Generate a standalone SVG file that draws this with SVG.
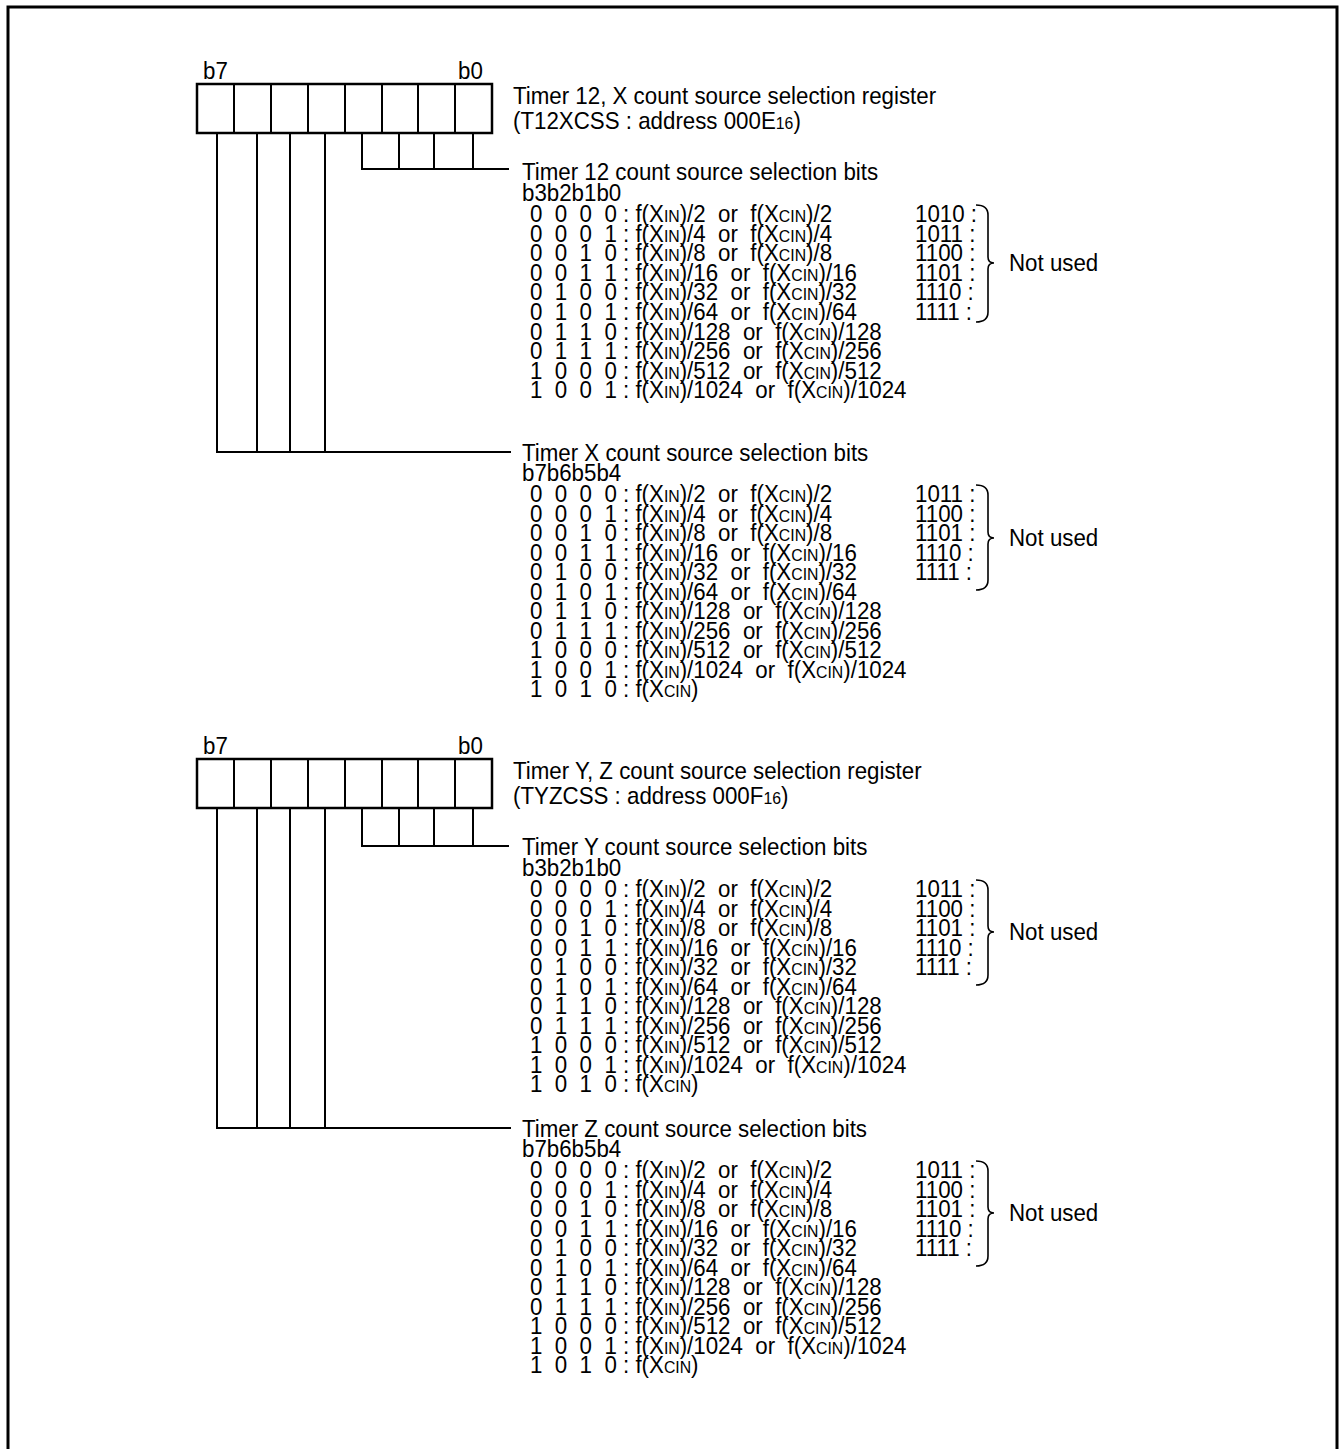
<svg xmlns="http://www.w3.org/2000/svg" width="1339" height="1449" viewBox="0 0 1339 1449">
<style>
.t{font-family:"Liberation Sans",Arial,sans-serif;font-size:24px;fill:#000}
.s{font-size:17px}
.ln{stroke:#000;stroke-width:2;fill:none}
.bx{stroke:#000;stroke-width:2.5;fill:#fff}
.br{stroke:#000;stroke-width:1.6;fill:none}
</style>
<rect width="1339" height="1449" fill="#fff"/>
<path d="M8,1449 V7 H1337 V1449" fill="none" stroke="#000" stroke-width="3"/>

<g id="register1">
<rect class="bx" x="197" y="84" width="295" height="49"/>
<path class="ln" d="M234,84V133M271,84V133M308,84V133M345,84V133M382,84V133M418,84V133M455,84V133"/>
<text class="t" transform="translate(203,79) scale(0.93,1)">b7</text>
<text class="t" transform="translate(458,79) scale(0.93,1)">b0</text>
<text class="t" transform="translate(513,104) scale(0.93,1)">Timer 12, X count source selection register</text>
<text class="t" transform="translate(513,129) scale(0.93,1)">(T12XCSS : address 000E<tspan class="s">16</tspan>)</text>
</g>

<g id="register2">
<rect class="bx" x="197" y="759" width="295" height="49"/>
<path class="ln" d="M234,759V808M271,759V808M308,759V808M345,759V808M382,759V808M418,759V808M455,759V808"/>
<text class="t" transform="translate(203,754) scale(0.93,1)">b7</text>
<text class="t" transform="translate(458,754) scale(0.93,1)">b0</text>
<text class="t" transform="translate(513,779) scale(0.93,1)">Timer Y, Z count source selection register</text>
<text class="t" transform="translate(513,804) scale(0.93,1)">(TYZCSS : address 000F<tspan class="s">16</tspan>)</text>
</g>

<g id="connectors">
<path class="ln" d="M362,133V169M399,133V169M434,133V169M473,133V169M361,169H509"/>
<path class="ln" d="M217,133V452M257,133V452M290,133V452M325,133V452M216,452H511"/>
<path class="ln" d="M362,808V846M399,808V846M434,808V846M473,808V846M361,846H509"/>
<path class="ln" d="M217,808V1128M257,808V1128M290,808V1128M325,808V1128M216,1128H511"/>
</g>

<g id="timer12-bits">
<text class="t" transform="translate(522,180) scale(0.93,1)">Timer 12 count source selection bits</text>
<text class="t" transform="translate(522,201) scale(0.93,1)">b3b2b1b0</text>
<text class="t" xml:space="preserve" transform="translate(530,222) scale(0.93,1)">0  0  0  0 : f(X<tspan class="s">IN</tspan>)/2  or  f(X<tspan class="s">CIN</tspan>)/2</text>
<text class="t" xml:space="preserve" transform="translate(530,241.6) scale(0.93,1)">0  0  0  1 : f(X<tspan class="s">IN</tspan>)/4  or  f(X<tspan class="s">CIN</tspan>)/4</text>
<text class="t" xml:space="preserve" transform="translate(530,261.2) scale(0.93,1)">0  0  1  0 : f(X<tspan class="s">IN</tspan>)/8  or  f(X<tspan class="s">CIN</tspan>)/8</text>
<text class="t" xml:space="preserve" transform="translate(530,280.8) scale(0.93,1)">0  0  1  1 : f(X<tspan class="s">IN</tspan>)/16  or  f(X<tspan class="s">CIN</tspan>)/16</text>
<text class="t" xml:space="preserve" transform="translate(530,300.4) scale(0.93,1)">0  1  0  0 : f(X<tspan class="s">IN</tspan>)/32  or  f(X<tspan class="s">CIN</tspan>)/32</text>
<text class="t" xml:space="preserve" transform="translate(530,320) scale(0.93,1)">0  1  0  1 : f(X<tspan class="s">IN</tspan>)/64  or  f(X<tspan class="s">CIN</tspan>)/64</text>
<text class="t" xml:space="preserve" transform="translate(530,339.6) scale(0.93,1)">0  1  1  0 : f(X<tspan class="s">IN</tspan>)/128  or  f(X<tspan class="s">CIN</tspan>)/128</text>
<text class="t" xml:space="preserve" transform="translate(530,359.2) scale(0.93,1)">0  1  1  1 : f(X<tspan class="s">IN</tspan>)/256  or  f(X<tspan class="s">CIN</tspan>)/256</text>
<text class="t" xml:space="preserve" transform="translate(530,378.8) scale(0.93,1)">1  0  0  0 : f(X<tspan class="s">IN</tspan>)/512  or  f(X<tspan class="s">CIN</tspan>)/512</text>
<text class="t" xml:space="preserve" transform="translate(530,398.4) scale(0.93,1)">1  0  0  1 : f(X<tspan class="s">IN</tspan>)/1024  or  f(X<tspan class="s">CIN</tspan>)/1024</text>
<text class="t" xml:space="preserve" transform="translate(915,222) scale(0.93,1)">1010 :</text>
<text class="t" xml:space="preserve" transform="translate(915,241.6) scale(0.93,1)">1011 :</text>
<text class="t" xml:space="preserve" transform="translate(915,261.2) scale(0.93,1)">1100 :</text>
<text class="t" xml:space="preserve" transform="translate(915,280.8) scale(0.93,1)">1101 :</text>
<text class="t" xml:space="preserve" transform="translate(915,300.4) scale(0.93,1)">1110 :</text>
<text class="t" xml:space="preserve" transform="translate(915,320) scale(0.93,1)">1111 :</text>
<path class="br" d="M976,205 C984,205 988,208 988,215 L988,257 C988,261 990,263 994,263 C990,263 988,265 988,269 L988,312 C988,319 984,322 976,322"/>
<text class="t" transform="translate(1009,271) scale(0.93,1)">Not used</text>
</g>

<g id="timerX-bits">
<text class="t" transform="translate(522,461) scale(0.93,1)">Timer X count source selection bits</text>
<text class="t" transform="translate(522,481) scale(0.93,1)">b7b6b5b4</text>
<text class="t" xml:space="preserve" transform="translate(530,502) scale(0.93,1)">0  0  0  0 : f(X<tspan class="s">IN</tspan>)/2  or  f(X<tspan class="s">CIN</tspan>)/2</text>
<text class="t" xml:space="preserve" transform="translate(530,521.5) scale(0.93,1)">0  0  0  1 : f(X<tspan class="s">IN</tspan>)/4  or  f(X<tspan class="s">CIN</tspan>)/4</text>
<text class="t" xml:space="preserve" transform="translate(530,541) scale(0.93,1)">0  0  1  0 : f(X<tspan class="s">IN</tspan>)/8  or  f(X<tspan class="s">CIN</tspan>)/8</text>
<text class="t" xml:space="preserve" transform="translate(530,560.5) scale(0.93,1)">0  0  1  1 : f(X<tspan class="s">IN</tspan>)/16  or  f(X<tspan class="s">CIN</tspan>)/16</text>
<text class="t" xml:space="preserve" transform="translate(530,580) scale(0.93,1)">0  1  0  0 : f(X<tspan class="s">IN</tspan>)/32  or  f(X<tspan class="s">CIN</tspan>)/32</text>
<text class="t" xml:space="preserve" transform="translate(530,599.5) scale(0.93,1)">0  1  0  1 : f(X<tspan class="s">IN</tspan>)/64  or  f(X<tspan class="s">CIN</tspan>)/64</text>
<text class="t" xml:space="preserve" transform="translate(530,619) scale(0.93,1)">0  1  1  0 : f(X<tspan class="s">IN</tspan>)/128  or  f(X<tspan class="s">CIN</tspan>)/128</text>
<text class="t" xml:space="preserve" transform="translate(530,638.5) scale(0.93,1)">0  1  1  1 : f(X<tspan class="s">IN</tspan>)/256  or  f(X<tspan class="s">CIN</tspan>)/256</text>
<text class="t" xml:space="preserve" transform="translate(530,658) scale(0.93,1)">1  0  0  0 : f(X<tspan class="s">IN</tspan>)/512  or  f(X<tspan class="s">CIN</tspan>)/512</text>
<text class="t" xml:space="preserve" transform="translate(530,677.5) scale(0.93,1)">1  0  0  1 : f(X<tspan class="s">IN</tspan>)/1024  or  f(X<tspan class="s">CIN</tspan>)/1024</text>
<text class="t" xml:space="preserve" transform="translate(530,697) scale(0.93,1)">1  0  1  0 : f(X<tspan class="s">CIN</tspan>)</text>
<text class="t" xml:space="preserve" transform="translate(915,502) scale(0.93,1)">1011 :</text>
<text class="t" xml:space="preserve" transform="translate(915,521.5) scale(0.93,1)">1100 :</text>
<text class="t" xml:space="preserve" transform="translate(915,541) scale(0.93,1)">1101 :</text>
<text class="t" xml:space="preserve" transform="translate(915,560.5) scale(0.93,1)">1110 :</text>
<text class="t" xml:space="preserve" transform="translate(915,580) scale(0.93,1)">1111 :</text>
<path class="br" d="M976,485 C984,485 988,488 988,495 L988,532 C988,536 990,538 994,538 C990,538 988,540 988,544 L988,580 C988,587 984,590 976,590"/>
<text class="t" transform="translate(1009,546) scale(0.93,1)">Not used</text>
</g>

<g id="timerY-bits">
<text class="t" transform="translate(522,855) scale(0.93,1)">Timer Y count source selection bits</text>
<text class="t" transform="translate(522,876) scale(0.93,1)">b3b2b1b0</text>
<text class="t" xml:space="preserve" transform="translate(530,897) scale(0.93,1)">0  0  0  0 : f(X<tspan class="s">IN</tspan>)/2  or  f(X<tspan class="s">CIN</tspan>)/2</text>
<text class="t" xml:space="preserve" transform="translate(530,916.5) scale(0.93,1)">0  0  0  1 : f(X<tspan class="s">IN</tspan>)/4  or  f(X<tspan class="s">CIN</tspan>)/4</text>
<text class="t" xml:space="preserve" transform="translate(530,936) scale(0.93,1)">0  0  1  0 : f(X<tspan class="s">IN</tspan>)/8  or  f(X<tspan class="s">CIN</tspan>)/8</text>
<text class="t" xml:space="preserve" transform="translate(530,955.5) scale(0.93,1)">0  0  1  1 : f(X<tspan class="s">IN</tspan>)/16  or  f(X<tspan class="s">CIN</tspan>)/16</text>
<text class="t" xml:space="preserve" transform="translate(530,975) scale(0.93,1)">0  1  0  0 : f(X<tspan class="s">IN</tspan>)/32  or  f(X<tspan class="s">CIN</tspan>)/32</text>
<text class="t" xml:space="preserve" transform="translate(530,994.5) scale(0.93,1)">0  1  0  1 : f(X<tspan class="s">IN</tspan>)/64  or  f(X<tspan class="s">CIN</tspan>)/64</text>
<text class="t" xml:space="preserve" transform="translate(530,1014) scale(0.93,1)">0  1  1  0 : f(X<tspan class="s">IN</tspan>)/128  or  f(X<tspan class="s">CIN</tspan>)/128</text>
<text class="t" xml:space="preserve" transform="translate(530,1033.5) scale(0.93,1)">0  1  1  1 : f(X<tspan class="s">IN</tspan>)/256  or  f(X<tspan class="s">CIN</tspan>)/256</text>
<text class="t" xml:space="preserve" transform="translate(530,1053) scale(0.93,1)">1  0  0  0 : f(X<tspan class="s">IN</tspan>)/512  or  f(X<tspan class="s">CIN</tspan>)/512</text>
<text class="t" xml:space="preserve" transform="translate(530,1072.5) scale(0.93,1)">1  0  0  1 : f(X<tspan class="s">IN</tspan>)/1024  or  f(X<tspan class="s">CIN</tspan>)/1024</text>
<text class="t" xml:space="preserve" transform="translate(530,1092) scale(0.93,1)">1  0  1  0 : f(X<tspan class="s">CIN</tspan>)</text>
<text class="t" xml:space="preserve" transform="translate(915,897) scale(0.93,1)">1011 :</text>
<text class="t" xml:space="preserve" transform="translate(915,916.5) scale(0.93,1)">1100 :</text>
<text class="t" xml:space="preserve" transform="translate(915,936) scale(0.93,1)">1101 :</text>
<text class="t" xml:space="preserve" transform="translate(915,955.5) scale(0.93,1)">1110 :</text>
<text class="t" xml:space="preserve" transform="translate(915,975) scale(0.93,1)">1111 :</text>
<path class="br" d="M976,880 C984,880 988,883 988,890 L988,926 C988,930 990,932 994,932 C990,932 988,934 988,938 L988,975 C988,982 984,985 976,985"/>
<text class="t" transform="translate(1009,940) scale(0.93,1)">Not used</text>
</g>

<g id="timerZ-bits">
<text class="t" transform="translate(522,1137) scale(0.93,1)">Timer Z count source selection bits</text>
<text class="t" transform="translate(522,1157) scale(0.93,1)">b7b6b5b4</text>
<text class="t" xml:space="preserve" transform="translate(530,1178) scale(0.93,1)">0  0  0  0 : f(X<tspan class="s">IN</tspan>)/2  or  f(X<tspan class="s">CIN</tspan>)/2</text>
<text class="t" xml:space="preserve" transform="translate(530,1197.5) scale(0.93,1)">0  0  0  1 : f(X<tspan class="s">IN</tspan>)/4  or  f(X<tspan class="s">CIN</tspan>)/4</text>
<text class="t" xml:space="preserve" transform="translate(530,1217) scale(0.93,1)">0  0  1  0 : f(X<tspan class="s">IN</tspan>)/8  or  f(X<tspan class="s">CIN</tspan>)/8</text>
<text class="t" xml:space="preserve" transform="translate(530,1236.5) scale(0.93,1)">0  0  1  1 : f(X<tspan class="s">IN</tspan>)/16  or  f(X<tspan class="s">CIN</tspan>)/16</text>
<text class="t" xml:space="preserve" transform="translate(530,1256) scale(0.93,1)">0  1  0  0 : f(X<tspan class="s">IN</tspan>)/32  or  f(X<tspan class="s">CIN</tspan>)/32</text>
<text class="t" xml:space="preserve" transform="translate(530,1275.5) scale(0.93,1)">0  1  0  1 : f(X<tspan class="s">IN</tspan>)/64  or  f(X<tspan class="s">CIN</tspan>)/64</text>
<text class="t" xml:space="preserve" transform="translate(530,1295) scale(0.93,1)">0  1  1  0 : f(X<tspan class="s">IN</tspan>)/128  or  f(X<tspan class="s">CIN</tspan>)/128</text>
<text class="t" xml:space="preserve" transform="translate(530,1314.5) scale(0.93,1)">0  1  1  1 : f(X<tspan class="s">IN</tspan>)/256  or  f(X<tspan class="s">CIN</tspan>)/256</text>
<text class="t" xml:space="preserve" transform="translate(530,1334) scale(0.93,1)">1  0  0  0 : f(X<tspan class="s">IN</tspan>)/512  or  f(X<tspan class="s">CIN</tspan>)/512</text>
<text class="t" xml:space="preserve" transform="translate(530,1353.5) scale(0.93,1)">1  0  0  1 : f(X<tspan class="s">IN</tspan>)/1024  or  f(X<tspan class="s">CIN</tspan>)/1024</text>
<text class="t" xml:space="preserve" transform="translate(530,1373) scale(0.93,1)">1  0  1  0 : f(X<tspan class="s">CIN</tspan>)</text>
<text class="t" xml:space="preserve" transform="translate(915,1178) scale(0.93,1)">1011 :</text>
<text class="t" xml:space="preserve" transform="translate(915,1197.5) scale(0.93,1)">1100 :</text>
<text class="t" xml:space="preserve" transform="translate(915,1217) scale(0.93,1)">1101 :</text>
<text class="t" xml:space="preserve" transform="translate(915,1236.5) scale(0.93,1)">1110 :</text>
<text class="t" xml:space="preserve" transform="translate(915,1256) scale(0.93,1)">1111 :</text>
<path class="br" d="M976,1161 C984,1161 988,1164 988,1171 L988,1207 C988,1211 990,1213 994,1213 C990,1213 988,1215 988,1219 L988,1256 C988,1263 984,1266 976,1266"/>
<text class="t" transform="translate(1009,1221) scale(0.93,1)">Not used</text>
</g>
</svg>
